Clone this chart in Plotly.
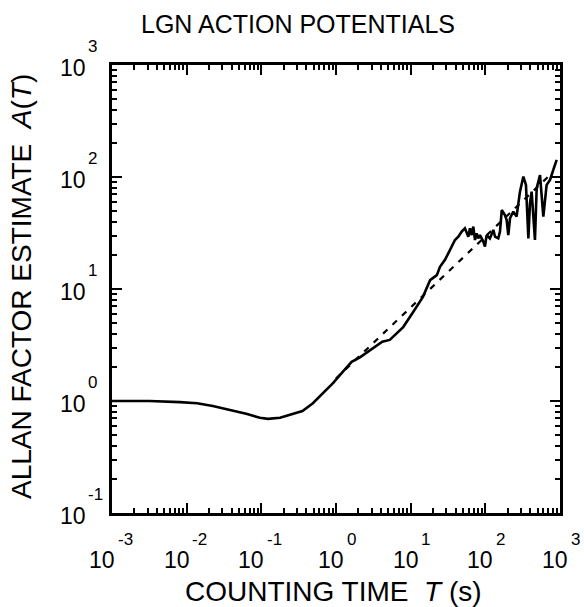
import math
import plotly.graph_objects as go

# ---- data ----
T_est = [0.001, 0.00316, 0.00813, 0.0138, 0.0224, 0.038, 0.0646, 0.0955, 0.123, 0.178,
         0.263, 0.355, 0.49, 0.676, 0.912, 1.23, 1.62, 2.09, 2.85, 3.55, 4.17, 5.25,
         7.94, 10.7, 14.6, 18.2, 22.4,
         24.7, 28.8, 31.9, 35.4, 39.2, 43.5, 48.2, 53.3, 56.2, 59.2, 62.3, 65.6, 69.0,
         72.7, 76.5, 80.5, 84.8, 94.0, 98.9, 104, 115, 128, 135, 149, 157, 166, 183,
         193, 203, 214, 237, 262, 291, 323, 350, 377, 396, 417, 462, 487, 540, 568,
         598, 662, 735, 813, 902]
A_est = [1.00, 1.00, 0.977, 0.955, 0.902, 0.832, 0.766, 0.708, 0.692, 0.708,
         0.759, 0.813, 0.955, 1.175, 1.445, 1.82, 2.24, 2.45, 2.85, 3.16, 3.39, 3.51,
         4.57, 6.17, 8.51, 12.0, 13.3,
         15.8, 18.2, 20.8, 23.9, 27.4, 29.3, 32.5, 34.8, 31.4, 29.3, 34.8, 30.3, 36.1,
         27.4, 31.4, 28.3, 30.3, 26.5, 23.9, 30.3, 28.3, 33.7, 29.3, 28.3, 32.5, 50.7, 45.8,
         41.3, 30.3, 42.8, 49.1, 44.3, 74.0, 101, 84.9, 28.3, 58.2, 74.0, 27.4, 79.3, 104, 71.5,
         44.3, 84.9, 94.0, 116, 142]

T_fit = [1, 3, 10, 30, 100, 300, 800]
A_fit = [1.59, 3.19, 6.84, 13.7, 29.4, 58.9, 110]

x_exps = [-3, -2, -1, 0, 1, 2, 3]
y_exps = [-1, 0, 1, 2, 3]

title_text = "LGN ACTION POTENTIALS"
x_title = "COUNTING TIME  <i>T</i> (s)"
y_title = "ALLAN FACTOR ESTIMATE  <i>A</i>(<i>T</i>)"

FONT = "Liberation Sans, Arial, sans-serif"
W, H = 584, 607
L, R, TOP, B = 112, 24, 65, 94
PW, PH = W - L - R, H - TOP - B
BASE_SIZE, EXP_SIZE = 23, 17


def px_to_paper_x(px):
    return (px - L) / PW


def px_to_paper_y(py):
    return (H - B - py) / PH


def minor_vals(exps):
    vals = []
    for e in exps[:-1]:
        for d in range(2, 10):
            vals.append(d * 10 ** e)
    return vals


def text_width(s, size):
    w = 0.0
    for ch in s:
        w += 0.584 if ch == "-" else 0.556
    return w * size


fig = go.Figure()
fig.add_trace(go.Scatter(x=T_est, y=A_est, mode="lines",
                         line=dict(color="black", width=2.6), showlegend=False))
fig.add_trace(go.Scatter(x=T_fit, y=A_fit, mode="lines",
                         line=dict(color="black", width=2.2, dash="6px,7px"), showlegend=False))

axis_common = dict(
    type="log", showgrid=False, zeroline=False, showticklabels=False,
    showline=True, linecolor="black", linewidth=2.5, mirror="allticks",
    ticks="inside", ticklen=10, tickwidth=2, tickcolor="black",
)

fig.update_xaxes(
    **axis_common,
    range=[x_exps[0], x_exps[-1]],
    tickvals=[10 ** e for e in x_exps],
    minor=dict(ticks="inside", ticklen=5, tickwidth=1.5, tickcolor="black",
               tickvals=minor_vals(x_exps)),
)
fig.update_yaxes(
    **axis_common,
    range=[y_exps[0], y_exps[-1]],
    tickvals=[10 ** e for e in y_exps],
    minor=dict(ticks="inside", ticklen=5, tickwidth=1.5, tickcolor="black",
               tickvals=minor_vals(y_exps)),
)

ann = []
base_font = dict(family=FONT, size=BASE_SIZE, color="black")
exp_font = dict(family=FONT, size=EXP_SIZE, color="black")

# x tick labels: "10" plus raised exponent, whole label centred on the tick
for e in x_exps:
    w10 = text_width("10", BASE_SIZE)
    we = text_width(str(e), EXP_SIZE)
    tot = w10 + 3 + we
    left_shift = -tot / 2
    ann.append(dict(x=e, xref="x", y=px_to_paper_y(560), yref="paper",
                    text="10", showarrow=False, font=base_font,
                    xanchor="left", yanchor="middle", xshift=left_shift, borderpad=0))
    ann.append(dict(x=e, xref="x", y=px_to_paper_y(539), yref="paper",
                    text=str(e), showarrow=False, font=exp_font,
                    xanchor="left", yanchor="middle", xshift=left_shift + w10 + 3, borderpad=0))

# y tick labels
for e in y_exps:
    ann.append(dict(x=px_to_paper_x(87), xref="paper", y=e, yref="y",
                    text="10", showarrow=False, font=base_font,
                    xanchor="right", yanchor="middle", yshift=-3, borderpad=0))
    ann.append(dict(x=px_to_paper_x(87), xref="paper", y=e, yref="y",
                    text=str(e), showarrow=False, font=exp_font,
                    xanchor="left", yanchor="middle", yshift=19, borderpad=0))

# axis titles
ann.append(dict(x=px_to_paper_x(333), xref="paper", y=px_to_paper_y(591), yref="paper",
                text=x_title, showarrow=False,
                font=dict(family=FONT, size=28, color="black"),
                xanchor="center", yanchor="middle"))
ann.append(dict(x=px_to_paper_x(21), xref="paper", y=px_to_paper_y(287), yref="paper",
                text=y_title, showarrow=False, textangle=-90,
                font=dict(family=FONT, size=28, color="black"),
                xanchor="center", yanchor="middle"))

fig.update_layout(
    width=W, height=H,
    margin=dict(l=L, r=R, t=TOP, b=B, autoexpand=False),
    paper_bgcolor="white", plot_bgcolor="white",
    title=dict(text=title_text, x=298 / W, xanchor="center",
               y=1 - 24 / H, yanchor="middle",
               font=dict(family=FONT, size=25, color="black")),
    annotations=ann,
)

fig.write_html("out.html")
